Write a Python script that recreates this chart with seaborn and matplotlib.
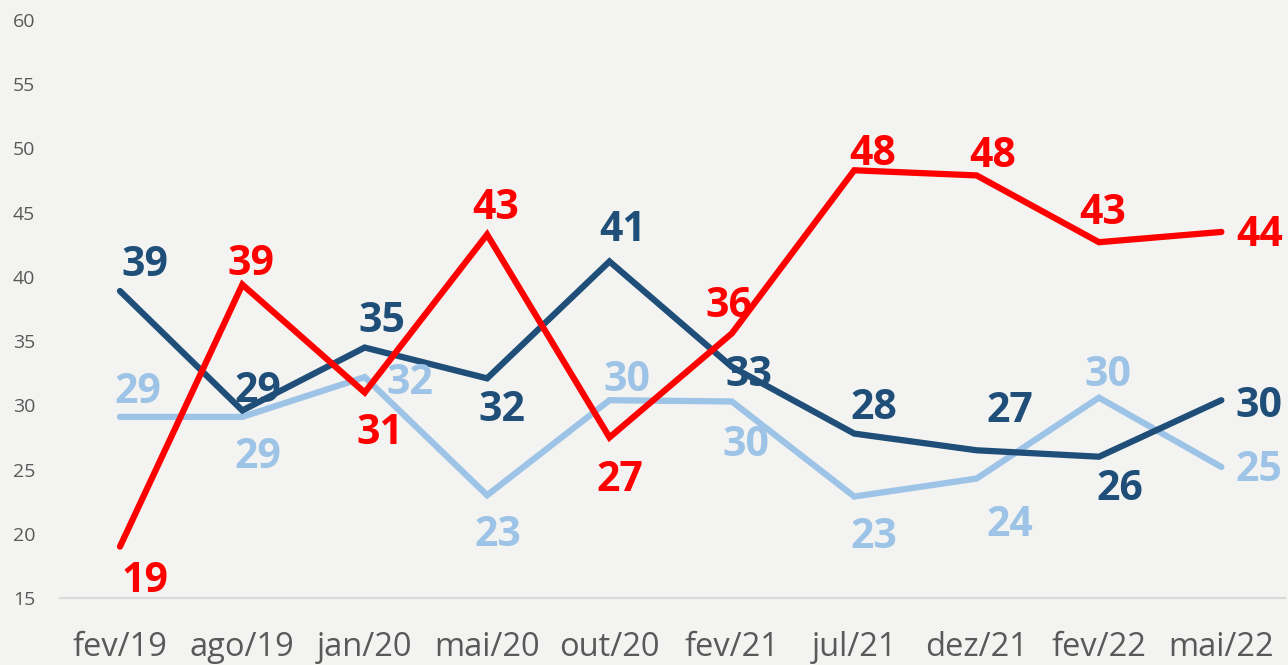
import matplotlib
matplotlib.use('Agg')
import matplotlib.pyplot as plt
import pandas as pd
import seaborn as sns

# dados
periodos = ['fev/19', 'ago/19', 'jan/20', 'mai/20', 'out/20',
            'fev/21', 'jul/21', 'dez/21', 'fev/22', 'mai/22']
azul_escuro = [38.9, 29.6, 34.5, 32.1, 41.2, 33.0, 27.8, 26.5, 26.0, 30.4]
azul_claro = [29.1, 29.1, 32.2, 23.0, 30.4, 30.3, 22.9, 24.3, 30.6, 25.2]
vermelho = [19.0, 39.4, 31.0, 43.3, 27.5, 35.6, 48.3, 47.9, 42.7, 43.5]
rot_azul_escuro = [39, 29, 35, 32, 41, 33, 28, 27, 26, 30]
rot_azul_claro = [29, 29, 32, 23, 30, 30, 23, 24, 30, 25]
rot_vermelho = [19, 39, 31, 43, 27, 36, 48, 48, 43, 44]
y_ticks = [15, 20, 25, 30, 35, 40, 45, 50, 55, 60]

cores = {'azul_claro': '#9dc3e6', 'azul_escuro': '#1f4e79', 'vermelho': '#ff0000'}

# deslocamento dos rótulos em pixels (dx, dy)
desl = {
    'azul_escuro': [(25, 29), (15, 22), (17, 29), (15, -29), (13, 34),
                    (17, -6), (20, 28), (33, 42), (21, -30), (38, -3)],
    'azul_claro': [(18, 27), (15, -38), (45, -3), (11, -37), (17, 23),
                   (14, -41), (20, -38), (33, -44), (9, 25), (38, -1)],
    'vermelho': [(25, -32), (9, 23), (15, -38), (9, 29), (10, -40),
                 (-3, 30), (18, 19), (16, 22), (4, 32), (38, -1)],
}

series = {'azul_claro': (azul_claro, rot_azul_claro),
          'azul_escuro': (azul_escuro, rot_azul_escuro),
          'vermelho': (vermelho, rot_vermelho)}

rows = []
for nome, (vals, _) in series.items():
    for i, v in enumerate(vals):
        rows.append({'idx': i, 'valor': v, 'serie': nome})
df = pd.DataFrame(rows)

sns.set_theme(style='white')
plt.rcParams['font.family'] = ['Open Sans', 'DejaVu Sans']

bg = '#f3f3f1'
fig = plt.figure(figsize=(12.88, 6.65), dpi=100, facecolor=bg)
ax = fig.add_axes([60 / 1288, 67 / 665, 1225 / 1288, 578 / 665])
ax.set_facecolor(bg)

sns.lineplot(data=df, x='idx', y='valor', hue='serie', palette=cores,
             hue_order=['azul_claro', 'azul_escuro', 'vermelho'],
             linewidth=4.5, sort=False, legend=False, ax=ax)
for ln in ax.get_lines():
    ln.set_solid_capstyle('round')
    ln.set_solid_joinstyle('miter')

for nome, (vals, rots) in series.items():
    for i, (v, r) in enumerate(zip(vals, rots)):
        dx, dy = desl[nome][i]
        ax.annotate(str(r), (i, v), xytext=(dx, dy - 3), textcoords='offset pixels',
                    ha='center', va='center', fontsize=29.5, fontweight='bold',
                    color=cores[nome], annotation_clip=False)

ax.set_xlim(-0.49, 9.52)
ax.set_ylim(15, 60)
ax.set_yticks(y_ticks)
ax.set_xticks(range(len(periodos)))
ax.set_xticklabels(periodos)
ax.set_xlabel('')
ax.set_ylabel('')
ax.tick_params(axis='y', length=0, pad=18, labelsize=14, labelcolor='#595959')
ax.tick_params(axis='x', length=0, pad=24, labelsize=23.5, labelcolor='#595959')
for s in ['top', 'right', 'left']:
    ax.spines[s].set_visible(False)
ax.spines['bottom'].set_color('#d9d9d9')
ax.spines['bottom'].set_linewidth(1.5)

fig.savefig('out.png', dpi=100, facecolor=bg)
